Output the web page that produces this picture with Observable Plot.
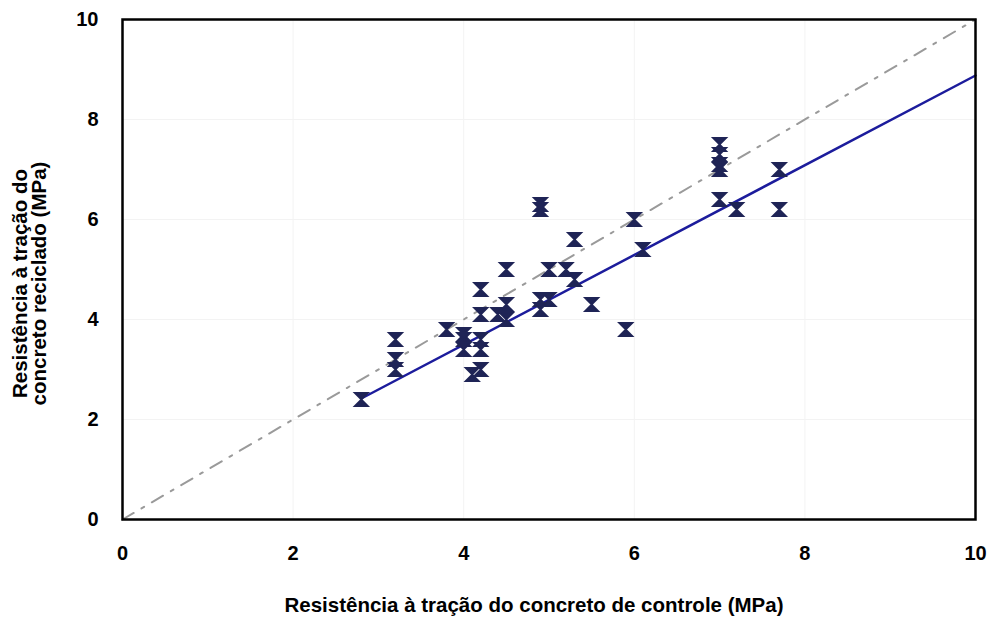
<!DOCTYPE html>
<html>
<head>
<meta charset="utf-8">
<script src="https://cdn.jsdelivr.net/npm/d3@7"></script>
<script src="https://cdn.jsdelivr.net/npm/@observablehq/plot@0.6"></script>
<style>
  html, body { margin: 0; padding: 0; background: #fff; }
</style>
</head>
<body>
<div id="chart"></div>
<script>
// Tensile strength: control concrete (x) vs recycled-aggregate concrete (y), MPa
const controle = [2.8, 3.2, 3.2, 3.2, 3.8, 4.0, 4.0, 4.0, 4.1, 4.2, 4.2, 4.2, 4.2, 4.2, 4.4, 4.5, 4.5, 4.5,
                  4.9, 4.9, 4.9, 4.9, 5.0, 5.0, 5.2, 5.3, 5.3, 5.5, 5.9, 6.0, 6.1,
                  7.0, 7.0, 7.0, 7.0, 7.0, 7.2, 7.7, 7.7];
const reciclado = [2.4, 3.6, 3.2, 3.0, 3.8, 3.7, 3.6, 3.4, 2.9, 3.0, 3.6, 3.4, 4.6, 4.1, 4.1, 4.0, 4.3, 5.0,
                   6.3, 6.2, 4.4, 4.2, 4.4, 5.0, 5.0, 5.6, 4.8, 4.3, 3.8, 6.0, 5.4,
                   7.5, 7.3, 7.1, 7.0, 6.4, 6.2, 7.0, 6.2];

// Equality line (y = x) and fitted trend line end points
const igualdadeX = [0, 10];
const igualdadeY = [0, 10];
const ajusteX = [2.8, 10];
const ajusteY = [2.42, 8.88];

const ticks = [0, 2, 4, 6, 8, 10];
const tituloX = "Resistência à tração do concreto de controle (MPa)";
const tituloY = "Resistência à tração do\nconcreto reciclado (MPa)";

const pontos = controle.map((x, i) => ({x, y: reciclado[i]}));
const igualdade = igualdadeX.map((x, i) => ({x, y: igualdadeY[i]}));
const ajuste = ajusteX.map((x, i) => ({x, y: ajusteY[i]}));

// Hourglass marker: two filled triangles meeting at the centre
const ampulheta = {
  draw(context, size) {
    const r = Math.sqrt(size / Math.PI);
    context.moveTo(-r, -r);
    context.lineTo(r, -r);
    context.lineTo(0, 0);
    context.closePath();
    context.moveTo(-r, r);
    context.lineTo(r, r);
    context.lineTo(0, 0);
    context.closePath();
  }
};

const fmt = d => String(d);

const chart = Plot.plot({
  width: 995,
  height: 617,
  marginLeft: 122,
  marginRight: 20,
  marginTop: 19,
  marginBottom: 98,
  style: {
    fontFamily: "'Liberation Sans', Arial, sans-serif",
    fontSize: "20px",
    fontWeight: "bold",
    color: "#000",
    background: "#fff"
  },
  x: {domain: [0, 10]},
  y: {domain: [0, 10]},
  marks: [
    Plot.gridX(ticks, {stroke: "#f3f3f3", strokeOpacity: 1}),
    Plot.gridY(ticks, {stroke: "#f3f3f3", strokeOpacity: 1}),
    Plot.axisX(ticks, {tickSize: 0, tickPadding: 26, tickFormat: fmt, fontSize: 20, fontWeight: "bold", label: null}),
    Plot.axisY(ticks, {tickSize: 0, tickPadding: 24, tickFormat: fmt, fontSize: 20, fontWeight: "bold", label: null}),
    Plot.line(igualdade, {x: "x", y: "y", stroke: "#9a9a9a", strokeWidth: 2, strokeDasharray: "13,9,3,9"}),
    Plot.line(ajuste, {x: "x", y: "y", stroke: "#1c1c9c", strokeWidth: 2.5}),
    Plot.dot(pontos, {x: "x", y: "y", symbol: ampulheta, r: 6.8, fill: "#1f2456", stroke: "#1f2456", strokeWidth: 1.6}),
    Plot.frame({stroke: "#000", strokeWidth: 2.5}),
    Plot.text([tituloX], {frameAnchor: "bottom", text: d => d, dx: -15, dy: 86, fontSize: 20.5, fontWeight: "bold", textAnchor: "middle", lineAnchor: "middle"}),
    Plot.text([tituloY], {frameAnchor: "left", text: d => d, dx: -92, dy: 14, rotate: -90, fontSize: 20.5, fontWeight: "bold", textAnchor: "middle", lineAnchor: "middle", lineHeight: 0.95})
  ]
});

document.getElementById("chart").appendChild(chart);
</script>
</body>
</html>
